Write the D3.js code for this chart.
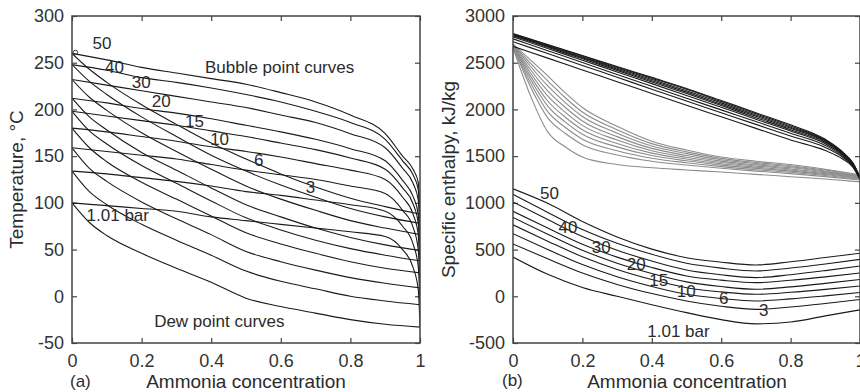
<!DOCTYPE html>
<meta charset="utf-8">
<style>

body { margin: 0; background: #fff; }

text
{
  font-family: "Liberation Sans", Arial, sans-serif;
  fill: #2b2b2b;
}

.frame
{
  fill: none;
  stroke: #444;
  stroke-width: 1.5px;
}

.axis path { display: none; }
.axis line { stroke: #444; stroke-width: 1.2px; }
.axis text { font-size: 18px; fill: #333; }

.curve
{
  fill: none;
  stroke: #1a1a1a;
  stroke-width: 1.1px;
}

.curve.grey { stroke: #8c8c8c; }

.note { font-size: 17px; }
.title { font-size: 19px; }

</style>
<svg width="860" height="392"></svg>
<script src="https://d3js.org/d3.v7.min.js"></script>
<script>

var svg = d3.select("svg");

// pressures (bar), lowest first
var pressures = ["1.01", "3", "6", "10", "15", "20", "30", "40", "50"];

var xTicks = [0, 0.2, 0.4, 0.6, 0.8, 1];
var tempTicks = [-50, 0, 50, 100, 150, 200, 250, 300];
var enthTicks = [-500, 0, 500, 1000, 1500, 2000, 2500, 3000];

// (a) temperature, steep curves
var concBubble = [0, 0.05, 0.1, 0.2, 0.3, 0.4, 0.5, 0.6, 0.7, 0.8, 0.9, 1];
var tempBubble = [
  [100, 79, 65, 46, 30, 15, -2, -11, -18, -25, -30, -33],
  [134, 112, 98, 77, 60, 44, 27, 16, 8, 0, -5, -9],
  [159, 137, 123, 101, 83, 66, 48, 37, 28, 20, 14, 9],
  [180, 159, 144, 122, 104, 86, 68, 56, 46, 37, 30, 25],
  [198, 177, 163, 140, 121, 102, 84, 71, 60, 51, 44, 38],
  [212, 192, 178, 154, 135, 116, 98, 85, 73, 63, 55, 49],
  [232, 213, 199, 175, 155, 136, 118, 104, 92, 81, 73, 66],
  [248, 230, 216, 192, 171, 151, 134, 119, 106, 94, 85, 78],
  [260, 243, 229, 205, 184, 164, 147, 131, 117, 105, 96, 88]
];

// (a) temperature, flat curves
var concDew = [0, 0.1, 0.2, 0.3, 0.4, 0.5, 0.6, 0.7, 0.8, 0.9, 0.95, 0.98, 0.995, 1];
var tempDew = [
  [100, 97, 94, 91, 85, 81, 77, 73, 69, 64, 50, 31, 7, -33],
  [134, 131, 127, 123, 118, 112, 108, 103, 98, 91, 75, 56, 32, -9],
  [159, 155, 151, 147, 141, 135, 130, 125, 118, 110, 92, 74, 50, 9],
  [180, 176, 171, 166, 160, 155, 149, 142, 135, 125, 106, 88, 66, 25],
  [198, 193, 188, 183, 177, 171, 164, 157, 148, 136, 116, 99, 78, 38],
  [212, 207, 201, 196, 190, 183, 176, 168, 158, 145, 124, 107, 88, 49],
  [232, 226, 220, 214, 208, 202, 194, 186, 174, 159, 137, 121, 103, 66],
  [248, 242, 234, 229, 223, 216, 208, 198, 186, 168, 145, 130, 114, 78],
  [260, 253, 245, 239, 233, 227, 218, 208, 194, 174, 150, 136, 122, 88]
];

// (b) enthalpy, black vapour curves
var concVapour = [0, 0.1, 0.2, 0.3, 0.4, 0.5, 0.6, 0.7, 0.8, 0.9, 0.95, 0.98, 1];
var hVapour = [
  [2675, 2549, 2423, 2297, 2171, 2045, 1921, 1797, 1673, 1560, 1470, 1380, 1250],
  [2725, 2598, 2471, 2344, 2217, 2090, 1965, 1840, 1715, 1592, 1488, 1390, 1255],
  [2756, 2629, 2502, 2374, 2247, 2120, 1995, 1870, 1745, 1615, 1500, 1396, 1258],
  [2777, 2652, 2527, 2401, 2276, 2150, 2023, 1895, 1768, 1632, 1512, 1403, 1262],
  [2790, 2666, 2542, 2418, 2294, 2170, 2041, 1912, 1783, 1645, 1520, 1408, 1265],
  [2798, 2675, 2553, 2430, 2308, 2185, 2056, 1927, 1798, 1655, 1528, 1412, 1268],
  [2803, 2682, 2562, 2441, 2321, 2200, 2070, 1940, 1810, 1664, 1535, 1416, 1270],
  [2808, 2689, 2571, 2452, 2334, 2215, 2084, 1953, 1822, 1672, 1540, 1420, 1272],
  [2812, 2695, 2578, 2460, 2343, 2225, 2095, 1965, 1835, 1680, 1545, 1425, 1275]
];

// (b) enthalpy, grey curves
var concGrey = [0, 0.05, 0.1, 0.15, 0.2, 0.3, 0.4, 0.5, 0.6, 0.7, 0.8, 0.9, 1];
var hGrey = [
  [2700, 2530, 2360, 2180, 2020, 1820, 1660, 1565, 1490, 1445, 1410, 1360, 1300],
  [2696, 2496, 2306, 2128, 1972, 1783, 1634, 1546, 1476, 1432, 1398, 1351, 1293],
  [2693, 2462, 2252, 2076, 1925, 1746, 1609, 1527, 1461, 1420, 1387, 1341, 1287],
  [2689, 2427, 2198, 2023, 1877, 1709, 1583, 1507, 1447, 1407, 1375, 1332, 1280],
  [2686, 2393, 2144, 1971, 1829, 1672, 1557, 1488, 1432, 1395, 1363, 1322, 1273],
  [2682, 2359, 2090, 1919, 1782, 1636, 1532, 1469, 1418, 1382, 1352, 1313, 1266],
  [2678, 2325, 2036, 1867, 1734, 1599, 1506, 1450, 1404, 1369, 1340, 1303, 1260],
  [2674, 2287, 1976, 1809, 1681, 1558, 1478, 1429, 1388, 1355, 1327, 1293, 1252],
  [2670, 2245, 1910, 1745, 1623, 1513, 1446, 1405, 1370, 1340, 1313, 1281, 1244],
  [2660, 2150, 1760, 1600, 1490, 1410, 1375, 1352, 1330, 1305, 1280, 1255, 1225]
];

// (b) enthalpy, liquid curves
var concLiquid = [0, 0.1, 0.2, 0.3, 0.4, 0.5, 0.6, 0.7, 0.8, 0.9, 1];
var hLiquid = [
  [420, 235, 95, 0, -90, -175, -250, -295, -275, -210, -145],
  [560, 401, 249, 127, 29, -50, -107, -140, -114, -77, -35],
  [670, 501, 339, 209, 105, 21, -24, -50, -28, 4, 40],
  [765, 590, 422, 287, 179, 92, 47, 21, 43, 74, 110],
  [845, 665, 493, 354, 244, 154, 104, 75, 101, 138, 180],
  [910, 730, 557, 419, 308, 218, 173, 146, 172, 208, 250],
  [1010, 821, 639, 493, 377, 282, 230, 200, 231, 275, 325],
  [1090, 898, 714, 567, 449, 353, 301, 271, 302, 345, 395],
  [1150, 995, 800, 635, 505, 413, 365, 335, 370, 415, 460]
];

// curve labels: text, concentration, value at baseline start
var labelsA = [
  ["50", 0.059, 264.7], ["40", 0.095, 238.7], ["30", 0.172, 222.9],
  ["20", 0.229, 202.3], ["15", 0.325, 180.9], ["10", 0.397, 162.2],
  ["6", 0.523, 139.8], ["3", 0.672, 110.9], ["1.01 bar", 0.042, 80.6],
  ["Bubble point curves", 0.382, 239.3], ["Dew point curves", 0.236, -32.6]
];
var labelsB = [
  ["50", 0.078, 1038], ["40", 0.131, 674], ["30", 0.227, 460],
  ["20", 0.328, 281], ["15", 0.393, 110], ["10", 0.472, -4],
  ["6", 0.594, -86], ["3", 0.709, -211], ["1.01 bar", 0.387, -432]
];

var plotTop = 16, plotBottom = 343;

function panel(id, x0, x1, yDomain, yTicks) {
  var x = d3.scaleLinear().domain([0, 1]).range([x0, x1]);
  var y = d3.scaleLinear().domain(yDomain).range([plotBottom, plotTop]);
  var g = svg.append("g");

  g.append("clipPath").attr("id", id)
    .append("rect")
      .attr("x", x0).attr("y", plotTop)
      .attr("width", x1 - x0).attr("height", plotBottom - plotTop);

  g.append("g").attr("class", "axis")
      .attr("transform", "translate(0," + plotBottom + ")")
      .call(d3.axisBottom(x).tickValues(xTicks).tickFormat(function(d) { return String(d); })
        .tickSize(-5).tickPadding(11));
  g.append("g").attr("class", "axis")
      .attr("transform", "translate(0," + plotTop + ")")
      .call(d3.axisTop(x).tickValues(xTicks).tickFormat("").tickSize(-5));
  g.append("g").attr("class", "axis")
      .attr("transform", "translate(" + x0 + ",0)")
      .call(d3.axisLeft(y).tickValues(yTicks).tickFormat(function(d) { return String(d); })
        .tickSize(-5).tickPadding(8));
  g.append("g").attr("class", "axis")
      .attr("transform", "translate(" + x1 + ",0)")
      .call(d3.axisRight(y).tickValues(yTicks).tickFormat("").tickSize(-5));

  var plot = g.append("g").attr("clip-path", "url(#" + id + ")");

  g.append("rect").attr("class", "frame")
      .attr("x", x0).attr("y", plotTop)
      .attr("width", x1 - x0).attr("height", plotBottom - plotTop);

  return { x: x, y: y, g: g, plot: plot };
}

function drawCurves(p, conc, rows, cls) {
  var line = d3.line()
      .x(function(d, i) { return p.x(conc[i]); })
      .y(function(d) { return p.y(d); })
      .curve(d3.curveMonotoneX);
  p.plot.selectAll(null)
    .data(rows)
    .enter().append("path")
      .attr("class", cls)
      .attr("d", line);
}

function drawLabels(p, labels) {
  p.g.selectAll(null)
    .data(labels)
    .enter().append("text")
      .attr("class", "note")
      .attr("x", function(d) { return p.x(d[1]); })
      .attr("y", function(d) { return p.y(d[2]); })
      .text(function(d) { return d[0]; });
}

// ---- (a) ----
var pa = panel("clipA", 72, 420, [-50, 300], tempTicks);
drawCurves(pa, concDew, tempDew, "curve");
drawCurves(pa, concBubble, tempBubble, "curve");
pa.plot.append("circle")
    .attr("cx", pa.x(0.01)).attr("cy", pa.y(261))
    .attr("r", 2.2)
    .attr("fill", "none").attr("stroke", "#333");
drawLabels(pa, labelsA);

// ---- (b) ----
var pb = panel("clipB", 513, 860, [-500, 3000], enthTicks);
drawCurves(pb, concGrey, hGrey, "curve grey");
drawCurves(pb, concVapour, hVapour, "curve");
drawCurves(pb, concLiquid, hLiquid, "curve");
drawLabels(pb, labelsB);

// axis titles
svg.append("text").attr("class", "title")
    .attr("transform", "translate(23,179.5) rotate(-90)")
    .attr("text-anchor", "middle")
    .text("Temperature, \u00b0C");
svg.append("text").attr("class", "title")
    .attr("transform", "translate(455,179.5) rotate(-90)")
    .attr("text-anchor", "middle")
    .text("Specific enthalpy, kJ/kg");

svg.append("text").attr("class", "title")
    .attr("x", 246).attr("y", 387.5)
    .attr("text-anchor", "middle")
    .text("Ammonia concentration");
svg.append("text").attr("class", "title")
    .attr("x", 687).attr("y", 387.5)
    .attr("text-anchor", "middle")
    .text("Ammonia concentration");

svg.append("text").attr("class", "note")
    .attr("x", 70).attr("y", 387)
    .text("(a)");
svg.append("text").attr("class", "note")
    .attr("x", 502).attr("y", 386)
    .text("(b)");

</script>
